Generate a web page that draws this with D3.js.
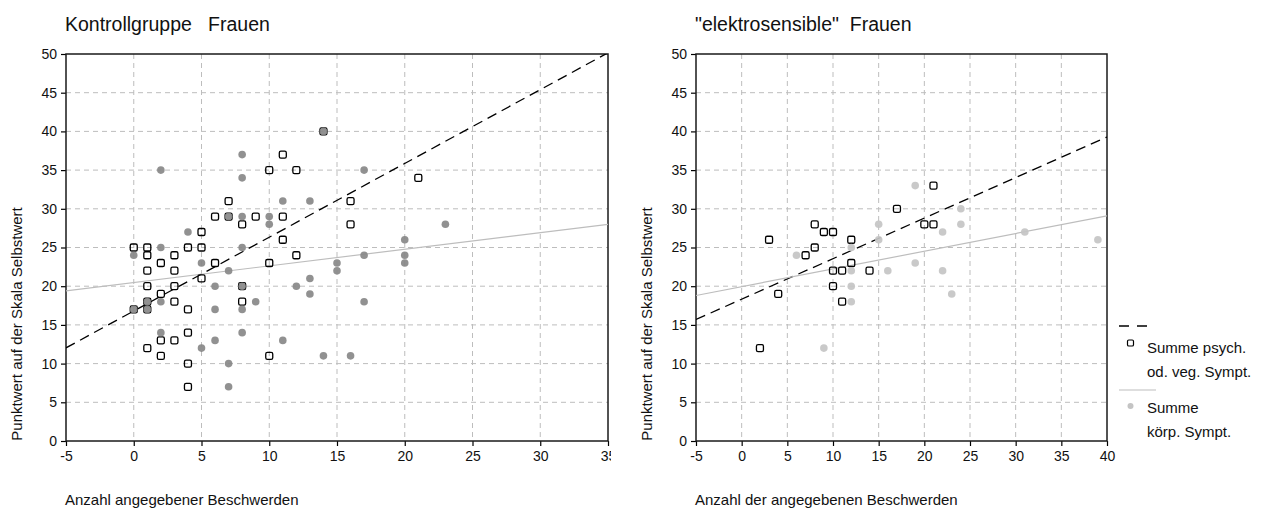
<!DOCTYPE html>
<html>
<head>
<meta charset="utf-8">
<script src="https://cdn.jsdelivr.net/npm/d3@7"></script>
<style>
  html, body { margin: 0; padding: 0; background: #fff; }
  svg { display: block; font-family: "Liberation Sans", Arial, sans-serif; }
</style>
</head>
<body>
<svg id="chart" width="1264" height="509"></svg>
<script>
// Self-esteem score vs. number of reported complaints, two groups of women.
const panelTitles = ['Kontrollgruppe   Frauen', '"elektrosensible"  Frauen'];
const xTitles = ['Anzahl angegebener Beschwerden', 'Anzahl der angegebenen Beschwerden'];
const yTitle = 'Punktwert auf der Skala Selbstwert';
const xDomains = [[-5, 35], [-5, 40]];
const yTicks = [0, 5, 10, 15, 20, 25, 30, 35, 40, 45, 50];
const legendLabels = [['Summe psych.', 'od. veg. Sympt.'], ['Summe', 'körp. Sympt.']];

// control group: [complaints, score]
const ctrlPsych = [[0,25],[1,25],[4,25],[5,25],[1,24],[3,24],[12,24],[2,23],[6,23],[10,23],
  [1,22],[3,22],[5,21],[1,20],[3,20],[2,19],[3,18],[8,18],[4,17],[2,13],[3,13],[1,12],
  [2,11],[10,11],[4,10],[4,7],[4,14],[11,37],[10,35],[12,35],[7,31],[16,31],[6,29],[9,29],
  [11,29],[8,28],[16,28],[5,27],[11,26],[21,34],[14,40],[7,29],[8,20],[1,18],[0,17],[1,17]];
const ctrlKoerp = [[2,35],[8,37],[8,34],[11,31],[13,31],[8,29],[10,29],[10,28],[4,27],[2,25],
  [8,25],[0,24],[5,23],[15,23],[7,22],[15,22],[13,21],[6,20],[12,20],[13,19],[2,18],[9,18],
  [6,17],[8,17],[2,14],[8,14],[6,13],[11,13],[5,12],[14,11],[16,11],[7,10],[7,7],[20,26],
  [17,24],[20,24],[20,23],[17,18],[17,35],[23,28],[14,40],[7,29],[8,20],[1,18],[0,17],[1,17]];

// "electrosensitive" group
const esPsych = [[21,33],[17,30],[8,28],[20,28],[21,28],[9,27],[10,27],[3,26],[12,26],[8,25],
  [7,24],[12,23],[10,22],[11,22],[14,22],[10,20],[4,19],[11,18],[2,12]];
const esKoerp = [[19,33],[15,28],[22,27],[15,26],[6,24],[12,25],[19,23],[12,22],[16,22],[22,22],
  [12,20],[23,19],[12,18],[9,12],[24,30],[24,28],[31,27],[39,26]];

// linear fits: [intercept, slope] for psych (dashed) and körp (solid)
const ctrlFits = [[16.8, 0.953], [20.475, 0.215]];
const esFits = [[18.32, 0.524], [19.94, 0.229]];

const panels = [
  { left: 66, right: 608, clipRight: 611, psych: ctrlPsych, koerp: ctrlKoerp, fits: ctrlFits, dot: '#888888' },
  { left: 696, right: 1107, clipRight: 1264, psych: esPsych, koerp: esKoerp, fits: esFits, dot: '#c4c4c4' }
];
const plotTop = 54, plotBottom = 441;

const svg = d3.select('#chart');
const defs = svg.append('defs');

panels.forEach((p, i) => {
  const x = d3.scaleLinear().domain(xDomains[i]).range([p.left, p.right]);
  const y = d3.scaleLinear().domain([0, 50]).range([plotBottom, plotTop]);
  const xTicks = d3.range(xDomains[i][0], xDomains[i][1] + 1, 5);

  defs.append('clipPath').attr('id', 'panel' + i)
    .append('rect').attr('x', 0).attr('y', 0)
    .attr('width', p.clipRight).attr('height', 509);
  defs.append('clipPath').attr('id', 'plot' + i)
    .append('rect').attr('x', p.left).attr('y', plotTop)
    .attr('width', p.right - p.left).attr('height', plotBottom - plotTop);

  const g = svg.append('g').attr('clip-path', `url(#panel${i})`);

  // grid
  g.append('g').selectAll('line').data(yTicks.filter(t => t > 0 && t < 50)).join('line')
    .attr('x1', p.left).attr('x2', p.right)
    .attr('y1', d => y(d)).attr('y2', d => y(d))
    .attr('stroke', '#bdbdbd').attr('stroke-width', 1).attr('stroke-dasharray', '5,4');
  g.append('g').selectAll('line').data(xTicks.filter(t => t > xDomains[i][0] && t < xDomains[i][1])).join('line')
    .attr('x1', d => x(d)).attr('x2', d => x(d))
    .attr('y1', plotTop).attr('y2', plotBottom)
    .attr('stroke', '#bdbdbd').attr('stroke-width', 1).attr('stroke-dasharray', '5,4');

  // axes
  const fmt = d => String(d);
  const yAxis = d3.axisLeft(y).tickValues(yTicks).tickFormat(fmt).tickSize(5).tickPadding(4);
  const xAxis = d3.axisBottom(x).tickValues(xTicks).tickFormat(fmt).tickSize(5).tickPadding(5);
  const ya = g.append('g').attr('transform', `translate(${p.left},0)`).call(yAxis);
  const xa = g.append('g').attr('transform', `translate(0,${plotBottom})`).call(xAxis);
  [ya, xa].forEach(a => {
    a.select('.domain').remove();
    a.selectAll('line').attr('stroke', '#000').attr('stroke-width', 1.2);
    a.selectAll('text').attr('fill', '#111').style('font-size', '14px')
      .style('font-family', '"Liberation Sans", Arial, sans-serif');
  });

  // frame
  g.append('rect').attr('x', p.left).attr('y', plotTop)
    .attr('width', p.right - p.left).attr('height', plotBottom - plotTop)
    .attr('fill', 'none').attr('stroke', '#1a1a1a').attr('stroke-width', 1.5);

  const plot = g.append('g').attr('clip-path', `url(#plot${i})`);

  // fitted lines
  const x0 = xDomains[i][0], x1 = xDomains[i][1];
  p.fits.forEach((f, k) => {
    plot.append('line')
      .attr('x1', x(x0)).attr('y1', y(f[0] + f[1] * x0))
      .attr('x2', x(x1)).attr('y2', y(f[0] + f[1] * x1))
      .attr('stroke', k === 0 ? '#000' : '#bdbdbd')
      .attr('stroke-width', k === 0 ? 1.3 : 1.2)
      .attr('stroke-dasharray', k === 0 ? '10,6' : null);
  });

  // psych. symptoms: open squares
  plot.append('g').selectAll('rect').data(p.psych).join('rect')
    .attr('x', d => x(d[0]) - 3.5).attr('y', d => y(d[1]) - 3.5)
    .attr('width', 7).attr('height', 7).attr('rx', 1.6)
    .attr('fill', 'none').attr('stroke', '#000').attr('stroke-width', 1.3);

  // bodily symptoms: filled dots
  plot.append('g').selectAll('circle').data(p.koerp).join('circle')
    .attr('cx', d => x(d[0])).attr('cy', d => y(d[1])).attr('r', 3.8)
    .attr('fill', p.dot).attr('fill-opacity', 0.92);

  // titles
  g.append('text').attr('x', p.left - 1).attr('y', 31)
    .style('font-size', '19.5px').style('white-space', 'pre').attr('fill', '#111')
    .text(panelTitles[i]);
  g.append('text').attr('x', p.left - 1).attr('y', 505)
    .style('font-size', '15px').attr('fill', '#111')
    .text(xTitles[i]);
  g.append('text')
    .attr('transform', `translate(${p.left - 44},${324}) rotate(-90)`)
    .attr('text-anchor', 'middle')
    .style('font-size', '15px').attr('fill', '#111')
    .text(yTitle);
});

// legend
const lg = svg.append('g');
lg.append('line').attr('x1', 1119).attr('x2', 1150).attr('y1', 326).attr('y2', 326)
  .attr('stroke', '#000').attr('stroke-width', 1.3).attr('stroke-dasharray', '10,8');
lg.append('rect').attr('x', 1127.5).attr('y', 340).attr('width', 6).attr('height', 6).attr('rx', 1.3)
  .attr('fill', 'none').attr('stroke', '#000').attr('stroke-width', 1.2);
lg.append('line').attr('x1', 1119).attr('x2', 1156).attr('y1', 390).attr('y2', 390)
  .attr('stroke', '#bdbdbd').attr('stroke-width', 1.2);
lg.append('circle').attr('cx', 1130.5).attr('cy', 406).attr('r', 3)
  .attr('fill', '#c4c4c4');
const legendY = [[353, 377], [413, 437]];
legendLabels.forEach((lines, k) => {
  lines.forEach((t, j) => {
    lg.append('text').attr('x', 1147).attr('y', legendY[k][j])
      .style('font-size', '15px').attr('fill', '#111').text(t);
  });
});
</script>
</body>
</html>
